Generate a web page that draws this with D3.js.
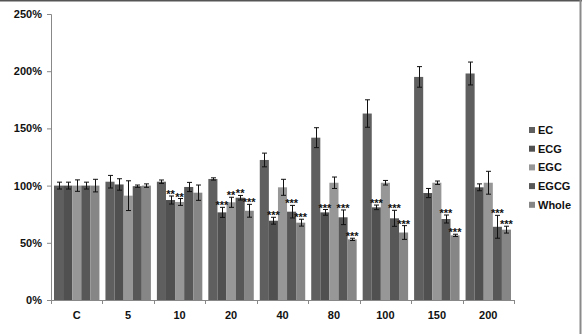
<!DOCTYPE html>
<html>
<head>
<meta charset="utf-8">
<script src="https://cdn.jsdelivr.net/npm/d3@7"></script>
<style>
  body { margin: 0; background: #fff; }
  text { font-family: "Liberation Sans", Arial, sans-serif; font-weight: bold; }
</style>
</head>
<body>
<script>
'use strict';

// concentrations on the x axis
const categories = ["C", "5", "10", "20", "40", "80", "100", "150", "200"]
const seriesNames = ["EC", "ECG", "EGC", "EGCG", "Whole"]

// mean values, % of control
const EC    = [100, 103.4, 103.4, 105.8, 122.4, 141.9, 163, 195, 198]
const ECG   = [100, 101, 87.4, 76.6, 69.3, 76.6, 81, 93.5, 98.5]
const EGC   = [100, 91.2, 85.7, 85.4, 98.5, 102.5, 102.5, 102.5, 102.5]
const EGCG  = [100, 99.5, 98.8, 89.4, 77.2, 72.3, 71.4, 70.8, 64]
const Whole = [100, 100, 93.8, 78, 67.6, 53, 59, 56.5, 61.5]

// error bar half-lengths
const errEC    = [3, 5.5, 1.5, 1, 6, 8.7, 12, 9, 10]
const errECG   = [3, 5, 3.5, 4.4, 3, 2.5, 2, 4, 3]
const errEGC   = [5, 13, 3, 4.4, 7, 5, 2, 1.5, 10]
const errEGCG  = [3, 1, 4, 2, 5.5, 6.4, 7, 3.5, 10]
const errWhole = [5.5, 1.5, 6.7, 5.6, 3, 1, 6, 1, 3]

// significance marks
const starsEC    = ["", "", "", "", "", "", "", "", ""]
const starsECG   = ["", "", "**", "***", "***", "***", "***", "", ""]
const starsEGC   = ["", "", "**", "**", "", "", "", "", ""]
const starsEGCG  = ["", "", "", "**", "***", "***", "***", "***", "***"]
const starsWhole = ["", "", "", "***", "***", "***", "***", "***", "***"]

const yTicks = [0, 50, 100, 150, 200, 250]

const colors = ["#5f5f5f", "#505050", "#979797", "#575757", "#868686"]

const values = [EC, ECG, EGC, EGCG, Whole]
const errors = [errEC, errECG, errEGC, errEGCG, errWhole]
const stars = [starsEC, starsECG, starsEGC, starsEGCG, starsWhole]

let rows = []
categories.forEach((c, i) => {
    seriesNames.forEach((s, j) => {
        rows.push({cat: c, s: s, v: values[j][i], e: errors[j][i], st: stars[j][i], k: j})
    })
})

const svg = d3.select("body").append("svg")
    .attr("width", 582)
    .attr("height", 334)

// picture frame (top and right edges)
svg.append("line").attr("x1", 0).attr("x2", 582).attr("y1", 0.5).attr("y2", 0.5)
    .attr("stroke", "#555").attr("stroke-width", 2)
svg.append("line").attr("x1", 580.5).attr("x2", 580.5).attr("y1", 0).attr("y2", 334)
    .attr("stroke", "#8a8a8a").attr("stroke-width", 2)

const x = d3.scaleBand().domain(categories).range([51, 514])
const x1 = d3.scaleBand().domain(seriesNames).range([0, x.bandwidth()]).paddingOuter(0.33)
const y = d3.scaleLinear().domain([0, 250]).range([300, 14])

// bars
svg.append("g").selectAll("rect")
    .data(rows)
    .enter()
    .append("rect")
    .attr("x", d => x(d.cat) + x1(d.s))
    .attr("y", d => y(d.v))
    .attr("width", x1.bandwidth())
    .attr("height", d => y(0) - y(d.v))
    .style("fill", d => colors[d.k])

// error bars
let eb = svg.append("g").attr("stroke", "#111").attr("stroke-width", 1)
rows.forEach(d => {
    let cx = Math.round(x(d.cat) + x1(d.s) + x1.bandwidth() / 2) + 0.5
    eb.append("line").attr("x1", cx).attr("x2", cx).attr("y1", y(d.v - d.e)).attr("y2", y(d.v + d.e))
    eb.append("line").attr("x1", cx - 2.5).attr("x2", cx + 2.5).attr("y1", y(d.v + d.e)).attr("y2", y(d.v + d.e))
    eb.append("line").attr("x1", cx - 2.5).attr("x2", cx + 2.5).attr("y1", y(d.v - d.e)).attr("y2", y(d.v - d.e))
})

// stars
svg.append("g").selectAll("text")
    .data(rows.filter(d => d.st))
    .enter()
    .append("text")
    .attr("x", d => x(d.cat) + x1(d.s) + x1.bandwidth() / 2)
    .attr("y", d => y(d.v + d.e) + 2)
    .attr("text-anchor", "middle")
    .style("font-size", "11px")
    .style("fill", "#111")
    .text(d => d.st)

// y axis
let yAxis = d3.axisLeft(y)
    .tickValues(yTicks)
    .tickFormat(d => d + "%")
    .tickSize(4)
    .tickPadding(5)
let gy = svg.append("g")
    .attr("transform", "translate(51,0)")
    .call(yAxis)
gy.selectAll("path, line").attr("stroke", "#888")
gy.selectAll("text").style("font-size", "11px").style("fill", "#111")

// x axis labels
let gx = svg.append("g")
    .attr("transform", "translate(0,300)")
    .call(d3.axisBottom(x).tickSize(0).tickPadding(11))
gx.select(".domain").remove()
gx.selectAll("text").style("font-size", "11px").style("fill", "#111")

// x axis line and boundary ticks
svg.append("line").attr("x1", 51).attr("x2", 514).attr("y1", 300.5).attr("y2", 300.5)
    .attr("stroke", "#888")
let bounds = categories.map(c => x(c)).concat([514])
svg.append("g").selectAll("line")
    .data(bounds)
    .enter()
    .append("line")
    .attr("x1", d => Math.round(d) + 0.5)
    .attr("x2", d => Math.round(d) + 0.5)
    .attr("y1", 300)
    .attr("y2", 304)
    .attr("stroke", "#888")

// legend
let lg = svg.append("g").selectAll("g")
    .data(seriesNames)
    .enter()
    .append("g")
    .attr("transform", (d, i) => "translate(529," + (130 + i * 18.7) + ")")
lg.append("rect")
    .attr("x", 0).attr("y", -3).attr("width", 6).attr("height", 6)
    .style("fill", (d, i) => colors[i])
lg.append("text")
    .attr("x", 9).attr("y", 4)
    .style("font-size", "11px")
    .style("fill", "#111")
    .text(d => d)
</script>
</body>
</html>
